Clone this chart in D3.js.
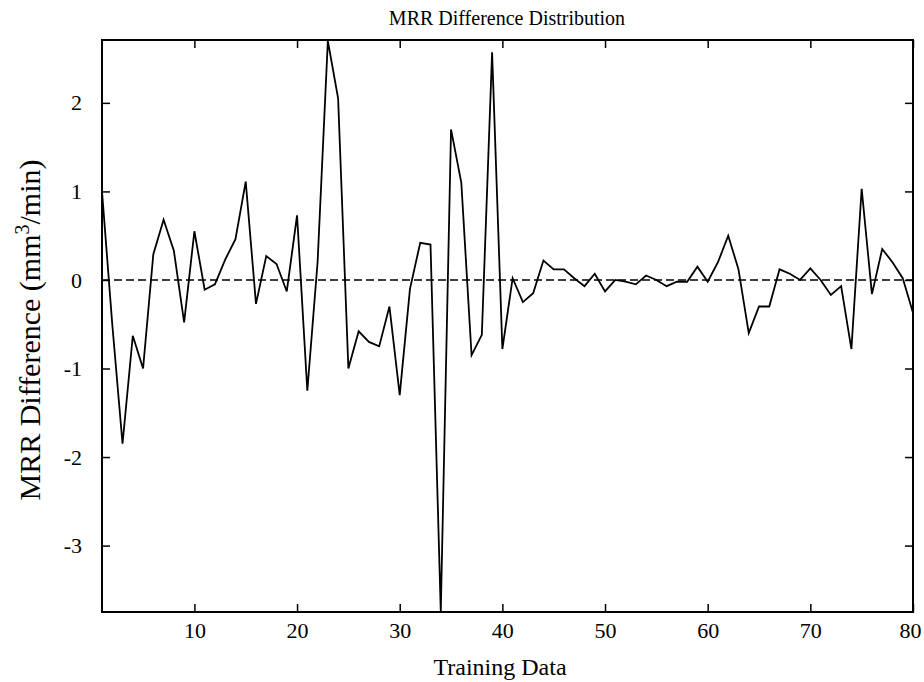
<!DOCTYPE html>
<html>
<head>
<meta charset="utf-8">
<script src="https://cdn.jsdelivr.net/npm/d3@7"></script>
<style>
  body { margin: 0; background: #fff; }
  svg text { font-family: "Liberation Serif", "Times New Roman", serif; fill: #000; }
</style>
</head>
<body>
<div id="d3-container"></div>
<script>
// training sample index 1..80
const samples = d3.range(1, 81)

// MRR difference per sample (mm^3/min)
const mrrDiff = [
  1.0, -0.5, -1.85, -0.63, -1.0, 0.29, 0.68, 0.33, -0.48, 0.55,
  -0.11, -0.05, 0.23, 0.46, 1.11, -0.27, 0.27, 0.18, -0.13, 0.73,
  -1.25, 0.2, 2.7, 2.05, -1.0, -0.58, -0.7, -0.75, -0.3, -1.3,
  -0.1, 0.42, 0.4, -3.75, 1.7, 1.1, -0.85, -0.62, 2.57, -0.78,
  0.02, -0.25, -0.15, 0.22, 0.12, 0.12, 0.02, -0.07, 0.07, -0.13,
  0.0, -0.02, -0.05, 0.05, 0.0, -0.07, -0.02, -0.02, 0.15, -0.02,
  0.2, 0.5, 0.12, -0.6, -0.3, -0.3, 0.12, 0.07, 0.0, 0.13,
  0.0, -0.17, -0.07, -0.78, 1.03, -0.16, 0.35, 0.2, 0.02, -0.37
]

const xTicks = [10, 20, 30, 40, 50, 60, 70, 80]
const yTicks = [-3, -2, -1, 0, 1, 2]

const width = 924
const height = 682
const margin = { top: 40, right: 11, bottom: 70, left: 102 }

const svg = d3
  .select('#d3-container')
  .append('svg')
  .attr('width', width)
  .attr('height', height)

const x = d3
  .scaleLinear()
  .domain([1, 80])
  .range([margin.left, width - margin.right])

const y = d3
  .scaleLinear()
  .domain([-3.75, 2.71])
  .range([height - margin.bottom, margin.top])

const tickLen = 8

// axes, gnuplot style: ticks inward and mirrored
function addAxes() {
  const bottom = svg.append('g')
    .attr('transform', `translate(0,${y.range()[0]})`)
    .call(d3.axisBottom(x).tickValues(xTicks).tickSize(-tickLen).tickPadding(10).tickFormat(d => String(d)))
  const top = svg.append('g')
    .attr('transform', `translate(0,${y.range()[1]})`)
    .call(d3.axisTop(x).tickValues(xTicks).tickSize(-tickLen).tickFormat(''))
  const left = svg.append('g')
    .attr('transform', `translate(${x.range()[0]},0)`)
    .call(d3.axisLeft(y).tickValues(yTicks).tickSize(-tickLen).tickPadding(20).tickFormat(d => String(d)))
  const right = svg.append('g')
    .attr('transform', `translate(${x.range()[1]},0)`)
    .call(d3.axisRight(y).tickValues(yTicks).tickSize(-tickLen).tickFormat(''))

  ;[bottom, top, left, right].forEach(g => {
    g.select('.domain').remove()
    g.attr('font-family', null).attr('font-size', null)
    g.selectAll('line').attr('stroke', '#000').attr('stroke-width', 1.5)
    g.selectAll('text')
      .style('font-family', '"Liberation Serif", serif')
      .style('font-size', '22px')
  })

  // last label sits at the right edge, nudge it inside like the original
  bottom.selectAll('.tick text').filter(d => d === 80).attr('dx', -3)

  svg.append('rect')
    .attr('x', x.range()[0])
    .attr('y', y.range()[1])
    .attr('width', x.range()[1] - x.range()[0])
    .attr('height', y.range()[0] - y.range()[1])
    .attr('fill', 'none')
    .attr('stroke', '#000')
    .attr('stroke-width', 2)
}

function addLines() {
  svg.append('line')
    .attr('x1', x.range()[0])
    .attr('x2', x.range()[1])
    .attr('y1', y(0))
    .attr('y2', y(0))
    .attr('stroke', '#000')
    .attr('stroke-width', 1.6)
    .attr('stroke-dasharray', '8,4')

  const line = d3.line()
    .x((d, i) => x(samples[i]))
    .y(d => y(d))

  svg.append('path')
    .datum(mrrDiff)
    .attr('fill', 'none')
    .attr('stroke', '#000')
    .attr('stroke-width', 1.8)
    .attr('stroke-linejoin', 'miter')
    .attr('d', line)
}

function addText() {
  svg.append('text')
    .attr('x', 507)
    .attr('y', 25)
    .attr('text-anchor', 'middle')
    .style('font-size', '20px')
    .text('MRR Difference Distribution')

  svg.append('text')
    .attr('x', 500)
    .attr('y', 675)
    .attr('text-anchor', 'middle')
    .style('font-size', '24px')
    .text('Training Data')

  const yl = svg.append('text')
    .attr('transform', 'translate(40,330) rotate(-90)')
    .attr('text-anchor', 'middle')
    .style('font-size', '30px')
  yl.append('tspan').text('MRR Difference (mm')
  yl.append('tspan').attr('dy', -11).style('font-size', '20px').text('3')
  yl.append('tspan').attr('dy', 11).text('/min)')
}

addLines()
addAxes()
addText()
</script>
</body>
</html>
